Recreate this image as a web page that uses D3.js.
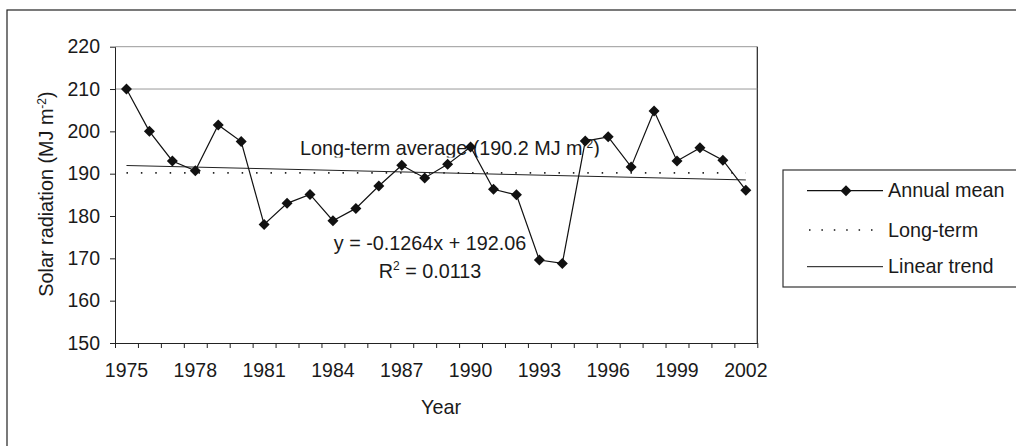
<!DOCTYPE html>
<html>
<head>
<meta charset="utf-8">
<script src="https://cdn.jsdelivr.net/npm/d3@7"></script>
<style>
  body { margin: 0; background: #fff; }
  svg text { font-family: "Liberation Sans", Arial, sans-serif; fill: #1a1a1a; }
</style>
</head>
<body>
<div id="chart"></div>
<script>
// annual mean solar radiation, MJ m-2
const years = d3.range(1975, 2003);
const annualMean = [210.0, 200.0, 193.0, 190.7, 201.5, 197.6, 178.0, 183.0, 185.1, 178.9,
  181.8, 187.1, 192.0, 189.0, 192.2, 196.3, 186.3, 185.0, 169.6, 168.8,
  197.7, 198.7, 191.6, 204.8, 193.0, 196.1, 193.2, 186.1];
const longTermAverage = 190.2;
const trendSlope = -0.1264;
const trendIntercept = 192.06;
const yTicks = [150, 160, 170, 180, 190, 200, 210, 220];
const xLabelYears = [1975, 1978, 1981, 1984, 1987, 1990, 1993, 1996, 1999, 2002];
const legendLabels = ["Annual mean", "Long-term", "Linear trend"];

const width = 1016, height = 446;
const plotLeft = 115, plotRight = 757.3, plotTop = 46.7, plotBottom = 343;
const fontSize = "19.5px";
const noteSize = "19.8px";

const svg = d3.select("#chart").append("svg")
  .attr("width", width)
  .attr("height", height);

// outer frame (cut off on right and bottom like the reference)
svg.append("rect")
  .attr("x", 7).attr("y", 10)
  .attr("width", 1030).attr("height", 460)
  .attr("fill", "none").attr("stroke", "#222").attr("stroke-width", 1.2);

const x = d3.scaleBand().domain(years).range([plotLeft, plotRight]).padding(0);
const xc = d => x(d) + x.bandwidth() / 2;
const xEdge = d3.scaleLinear().domain([0, years.length]).range([plotLeft, plotRight]);
const y = d3.scaleLinear().domain([150, 220]).range([plotBottom, plotTop]);

// plot area border: top grey, right dark
svg.append("line")
  .attr("x1", plotLeft).attr("x2", plotRight).attr("y1", plotTop).attr("y2", plotTop)
  .attr("stroke", "#999").attr("stroke-width", 1);
svg.append("line")
  .attr("x1", plotRight).attr("x2", plotRight).attr("y1", plotTop).attr("y2", plotBottom)
  .attr("stroke", "#222").attr("stroke-width", 1.2);

// the single grid line at 210
svg.append("line")
  .attr("x1", plotLeft).attr("x2", plotRight).attr("y1", y(210)).attr("y2", y(210))
  .attr("stroke", "#999").attr("stroke-width", 1);

// y axis
const yAxis = svg.append("g")
  .attr("transform", `translate(${plotLeft},0)`)
  .call(d3.axisLeft(y).tickValues(yTicks).tickSize(5).tickSizeOuter(0).tickPadding(10));
yAxis.selectAll("text").style("font-size", fontSize);

// x axis: tick marks at category edges
svg.append("g")
  .attr("transform", `translate(0,${plotBottom})`)
  .call(d3.axisBottom(xEdge).tickValues(d3.range(0, years.length + 1)).tickSize(5).tickSizeOuter(0).tickFormat(""));

// x labels centred on categories
const xLabels = svg.append("g")
  .attr("transform", `translate(0,${plotBottom})`)
  .call(d3.axisBottom(x).tickValues(xLabelYears).tickSize(0).tickPadding(20));
xLabels.select(".domain").remove();
xLabels.selectAll("text").style("font-size", fontSize);

svg.selectAll(".domain, .tick line").attr("stroke", "#222");

// axis titles
svg.append("text")
  .attr("x", 441).attr("y", 414)
  .attr("text-anchor", "middle")
  .style("font-size", noteSize)
  .text("Year");

const yTitle = svg.append("text")
  .attr("transform", "translate(53,194) rotate(-90)")
  .attr("text-anchor", "middle")
  .style("font-size", noteSize);
yTitle.append("tspan").text("Solar radiation (MJ m");
yTitle.append("tspan").attr("dy", -7).style("font-size", "12px").text("-2");
yTitle.append("tspan").attr("dy", 7).text(")");

// annotations (drawn under the series)
svg.append("clipPath").attr("id", "labelClip")
  .append("rect").attr("x", 0).attr("y", 0).attr("width", width).attr("height", 157.5);

const avgLabel = svg.append("text")
  .attr("x", 300).attr("y", 155)
  .attr("clip-path", "url(#labelClip)")
  .style("font-size", noteSize);
avgLabel.append("tspan").text(`Long-term average (${longTermAverage} MJ m`);
avgLabel.append("tspan").attr("dy", -7).style("font-size", "12px").text("-2");
avgLabel.append("tspan").attr("dy", 7).text(")");

svg.append("text")
  .attr("x", 430).attr("y", 250)
  .attr("text-anchor", "middle")
  .style("font-size", noteSize)
  .text(`y = ${trendSlope}x + ${trendIntercept}`);

const r2 = svg.append("text")
  .attr("x", 430).attr("y", 278)
  .attr("text-anchor", "middle")
  .style("font-size", noteSize);
r2.append("tspan").text("R");
r2.append("tspan").attr("dy", -8).style("font-size", "12px").text("2");
r2.append("tspan").attr("dy", 8).text(" = 0.0113");

// long-term average, dotted
const first = years[0], last = years[years.length - 1];
svg.append("line")
  .attr("x1", xc(first)).attr("x2", xc(last))
  .attr("y1", y(longTermAverage)).attr("y2", y(longTermAverage))
  .attr("stroke", "#222").attr("stroke-width", 1.6)
  .attr("stroke-dasharray", "1.5,12.9");

// linear trend from the chart's equation (x = 1..n)
svg.append("line")
  .attr("x1", xc(first)).attr("x2", xc(last))
  .attr("y1", y(trendSlope * 1 + trendIntercept))
  .attr("y2", y(trendSlope * years.length + trendIntercept))
  .attr("stroke", "#222").attr("stroke-width", 1);

// annual mean line + diamonds
const line = d3.line().x((d, i) => xc(years[i])).y(d => y(d));
svg.append("path")
  .datum(annualMean)
  .attr("d", line)
  .attr("fill", "none").attr("stroke", "#111").attr("stroke-width", 1.2);

const diamond = "M0,-5.5L5.5,0L0,5.5L-5.5,0Z";
svg.selectAll(".pt")
  .data(annualMean)
  .enter()
  .append("path")
  .attr("class", "pt")
  .attr("d", diamond)
  .attr("transform", (d, i) => `translate(${xc(years[i])},${y(d)})`)
  .attr("fill", "#111");

// legend
const legend = svg.append("g");
legend.append("rect")
  .attr("x", 783).attr("y", 170).attr("width", 260).attr("height", 117)
  .attr("fill", "#fff").attr("stroke", "#333").attr("stroke-width", 1.2);

const rowY = [190.7, 230, 266.7];
legendLabels.forEach(function (label, i) {
  const ln = legend.append("line")
    .attr("x1", 807).attr("x2", 883).attr("y1", rowY[i]).attr("y2", rowY[i])
    .attr("stroke", "#111");
  if (i === 0) ln.attr("stroke-width", 1.2);
  if (i === 1) ln.attr("stroke-width", 1.6).attr("stroke-dasharray", "1.5,10.9").attr("x1", 809);
  if (i === 0) {
    legend.append("path").attr("d", diamond)
      .attr("transform", `translate(846,${rowY[i]})`).attr("fill", "#111");
  }
  legend.append("text")
    .attr("x", 888).attr("y", rowY[i] + 6.5)
    .style("font-size", noteSize)
    .text(label);
});
</script>
</body>
</html>
